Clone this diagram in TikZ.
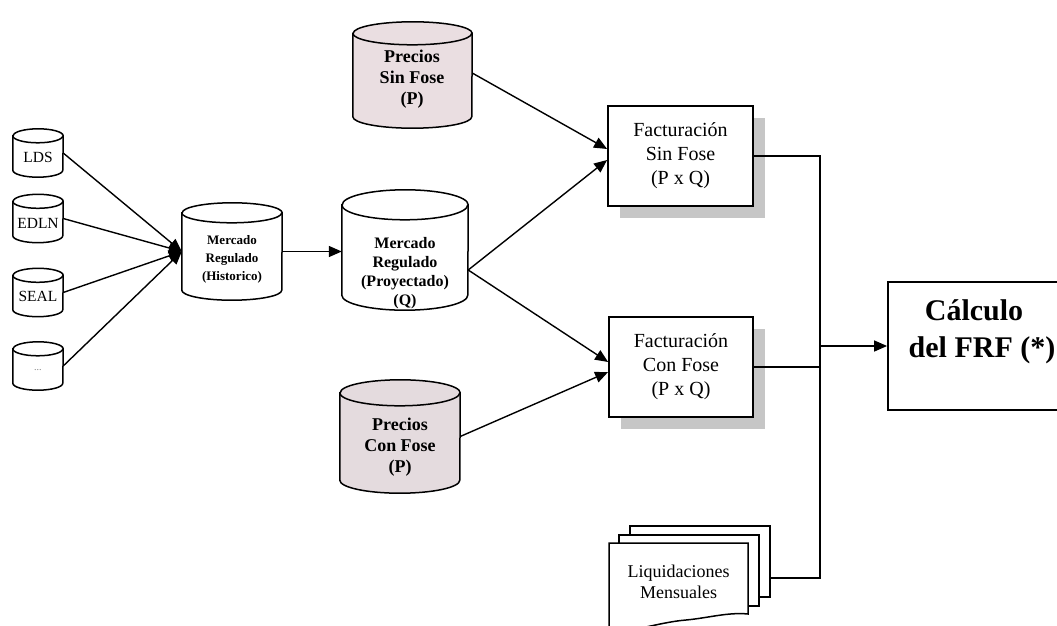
\documentclass[tikz,border=0pt]{standalone}
\usepackage{fontspec}
\setmainfont{Liberation Serif}
\usetikzlibrary{arrows.meta,calc}
\definecolor{pinkA}{RGB}{234,222,225}
\definecolor{pinkB}{RGB}{228,219,222}
\definecolor{shadowgray}{RGB}{198,198,198}

\newcommand\cylpath[4]{%
  \path[#4] ($(#1.north west)+(0,-#3)$) -- ($(#1.south west)+(0,#3)$)
     arc[start angle=180,end angle=360,x radius=#2,y radius=#3]
     -- ($(#1.north east)+(0,-#3)$)
     arc[start angle=0,end angle=180,x radius=#2,y radius=#3] -- cycle;
  \draw[cylline] ($(#1.north west)+(0,-#3)$)
     arc[start angle=180,end angle=360,x radius=#2,y radius=#3];
}

\tikzset{
  cylline/.style={draw=black,line width=1.5pt},
  cylbody/.style={draw=black,line width=1.5pt,fill=#1},
  shapebox/.style={rectangle,inner sep=0pt,draw=none},
  smalltxt/.style={font=\fontsize{15.5}{17}\selectfont,inner sep=0pt},
  histtxt/.style={font=\bfseries\fontsize{13}{18}\selectfont,align=center,inner sep=0pt},
  projtxt/.style={font=\bfseries\fontsize{16}{19}\selectfont,align=center,inner sep=0pt},
  pretxt/.style={font=\bfseries\fontsize{18}{21}\selectfont,align=center,inner sep=0pt},
  factbox/.style={rectangle,draw=black,line width=1.8pt,fill=white,minimum width=145pt,
     minimum height=100pt,inner sep=0pt,align=center,font=\fontsize{20}{24}\selectfont},
  shadowbox/.style={fill=shadowgray,draw=none},
  arr/.style={line width=1.4pt,-{Triangle[length=13pt,width=11pt]}},
  wire/.style={line width=1.5pt},
  page/.style={draw=black,line width=1.5pt,fill=white},
  liqtxt/.style={font=\fontsize{18}{21}\selectfont,align=center,inner sep=0pt},
  calctxt/.style={font=\bfseries\fontsize{30}{37}\selectfont,align=center,inner sep=0pt}
}

\begin{document}
\begin{tikzpicture}[x=1pt,y=1pt]
\useasboundingbox[fill=white] (0,0) rectangle (1057,-626);

% ---- small source cylinders
\node[shapebox,minimum width=50pt,minimum height=48pt] (lds) at (38,-153) {};
\node[shapebox,minimum width=50pt,minimum height=48pt] (edln) at (38,-218.5) {};
\node[shapebox,minimum width=50pt,minimum height=48pt] (seal) at (38,-292.5) {};
\node[shapebox,minimum width=50pt,minimum height=48pt] (dots) at (38,-366) {};
\cylpath{lds}{25}{7}{cylbody=white}
\cylpath{edln}{25}{7}{cylbody=white}
\cylpath{seal}{25}{7}{cylbody=white}
\cylpath{dots}{25}{7}{cylbody=white}
\node[smalltxt] (lds-t) at (38,-157) {LDS};
\node[smalltxt] (edln-t) at (38,-223) {EDLN};
\node[smalltxt] (seal-t) at (38,-296) {SEAL};
\node[smalltxt,font=\fontsize{10}{12}\selectfont,text=gray] (dots-t) at (38,-370) {...};

% ---- historic market
\node[shapebox,minimum width=100pt,minimum height=97pt] (hist) at (232,-251.5) {};
\cylpath{hist}{50}{10}{cylbody=white}
\node[histtxt] (hist-t) at (232,-259) {Mercado\\Regulado\\(Historico)};

% ---- projected market
\node[shapebox,minimum width=126pt,minimum height=120pt] (proj) at (405,-250) {};
\cylpath{proj}{63}{15}{cylbody=white}
\node[projtxt] (proj-t) at (405,-273) {Mercado\\Regulado\\(Proyectado)\\(Q)};

% ---- prices
\node[shapebox,minimum width=119pt,minimum height=106pt] (psf) at (412.5,-75) {};
\cylpath{psf}{59.5}{11.5}{cylbody=pinkA}
\node[pretxt] (psf-t) at (412,-79) {Precios\\Sin Fose\\(P)};

\node[shapebox,minimum width=120pt,minimum height=113pt] (pcf) at (400,-436.5) {};
\cylpath{pcf}{60}{13}{cylbody=pinkB}
\node[pretxt] (pcf-t) at (400,-447) {Precios\\Con Fose\\(P)};

% ---- billing boxes
\fill[shadowbox] (620,-118) rectangle (765,-218);
\fill[shadowbox] (621,-329) rectangle (765,-429);
\node[factbox] (factsin) at (680.5,-156) {Facturación\\Sin Fose\\(P x Q)};
\node[factbox,minimum width=144pt] (factcon) at (681,-367) {Facturación\\Con Fose\\(P x Q)};

% ---- liquidaciones (stacked documents)
\draw[page] (630,-526) rectangle (770,-597);
\draw[page] (619,-535) rectangle (759,-606);
\draw[page] (609,-543) -- (748,-543) -- (748,-614)
   .. controls (728,-612) and (708,-618) .. (686,-620)
   .. controls (662,-622) and (640,-630) .. (609,-633) -- cycle;
\node[shapebox,minimum width=139pt,minimum height=74pt] (liq) at (678.5,-580) {};
\node[liqtxt] (liq-t) at (678.5,-582) {Liquidaciones\\Mensuales};
\coordinate (liqout) at (770,-578);

% ---- result box
\node[rectangle,draw=black,line width=1.8pt,minimum width=180pt,minimum height=128pt,
      inner sep=0pt] (calc) at (978,-346) {};
\node[calctxt] (calc-t) at (982,-332) {Cálculo\hspace*{16pt}\\del FRF (*)};

% ---- connectors
\draw[arr] (lds.east) -- (hist.west);
\draw[arr] (edln.east) -- (hist.west);
\draw[arr] (seal.east) -- (hist.west);
\draw[arr] (dots.east) -- (hist.west);
\draw[arr] (hist.east) -- (hist.east -| proj.west);

\coordinate (projout) at ($(proj.east)+(0,-20)$);
\coordinate (psfout) at ($(psf.east)+(0,2)$);
\draw[arr] (psfout) -- ($(factsin.west)+(0,7)$);
\draw[arr] (projout) -- ($(factsin.west)+(0,-4)$);
\draw[arr] (projout) -- ($(factcon.west)+(0,5)$);
\draw[arr] (pcf.east) -- ($(factcon.west)+(0,-5)$);

\coordinate (busx) at (820,0);
\draw[wire] (factsin.east) -- (factsin.east -| busx) -- (liqout -| busx) -- (liqout);
\draw[wire] (factcon.east) -- (factcon.east -| busx);
\draw[arr] (calc.west -| busx) -- (calc.west);
\end{tikzpicture}
\end{document}
